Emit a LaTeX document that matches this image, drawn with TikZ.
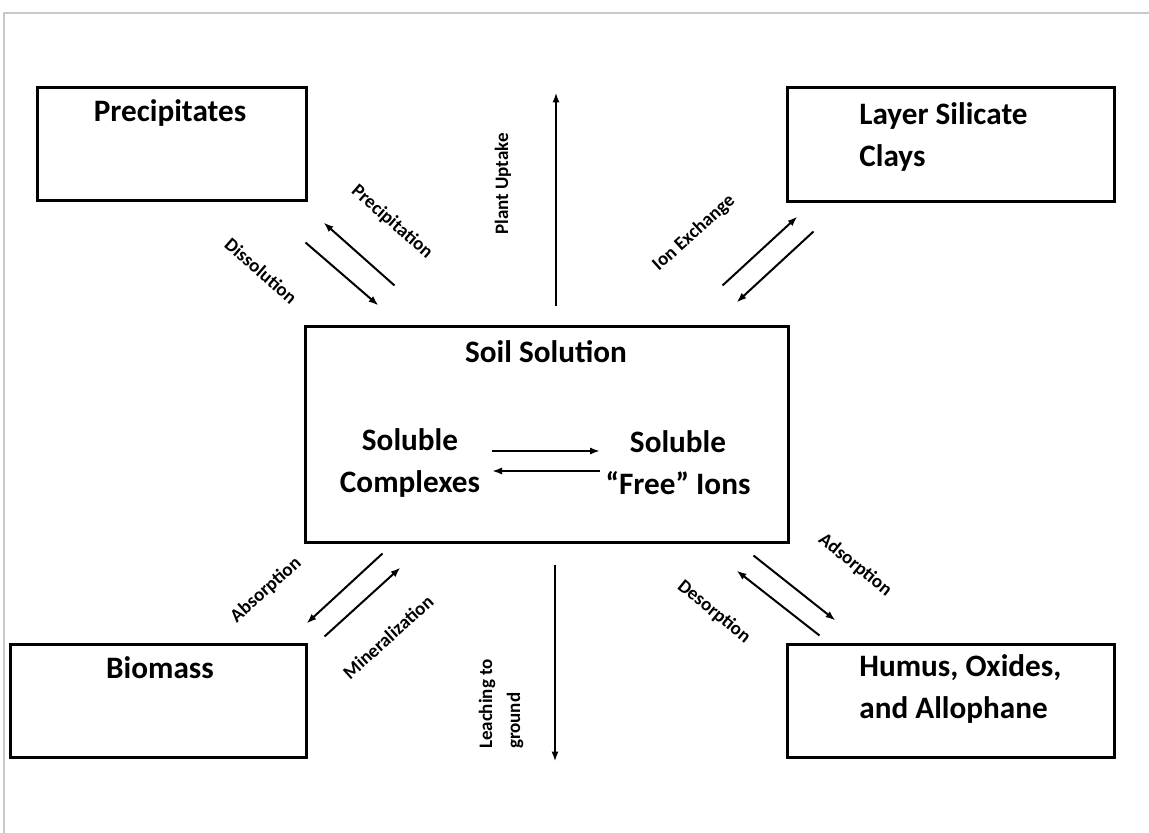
\documentclass[tikz,border=0pt]{standalone}
\usepackage{fontspec}
\setmainfont{Carlito}
\usepackage{tikz}
\usetikzlibrary{arrows.meta, positioning, calc}
\definecolor{framegray}{RGB}{200,200,200}

\begin{document}
\begin{tikzpicture}[
    x=0.5pt, y=-0.5pt,
    box/.style={rectangle, draw, line width=1.5pt, inner sep=0pt},
    title/.style={font=\fontsize{15.6}{21}\selectfont\bfseries, inner sep=0pt},
    lbl/.style={font=\fontsize{9.5}{14}\selectfont\bfseries, inner sep=0pt},
    arrow/.style={-{Latex[length=5pt, width=3.6pt]}, line width=1pt}
]
\useasboundingbox (0,0) rectangle (1149,833);
\draw[framegray, line width=1.2pt] (4,833) -- (4,13) -- (1149,13);

% boxes
\node[box, minimum width=134.5pt, minimum height=56.5pt] (prec) at (171.5,144.5) {};
\node[box, minimum width=163.5pt, minimum height=57pt] (clays) at (950.5,145) {};
\node[box, minimum width=241.5pt, minimum height=107.5pt] (soil) at (546.5,434.5) {};
\node[box, minimum width=148pt, minimum height=56.5pt] (bio) at (158,700.5) {};
\node[box, minimum width=163.5pt, minimum height=56.5pt] (humus) at (950.5,700.5) {};

\node[title] (tprec) at (170,113) {Precipitates};
\node[title, align=left, anchor=west] (tclays) at (859,137) {Layer Silicate\\Clays};
\node[title] (tsoil) at (546,352) {Soil Solution};
\node[title, align=center] (tcplx) at (410,463) {Soluble\\Complexes};
\node[title, align=center] (tfree) at (678,463) {Soluble\\“Free” Ions};
\node[title] (tbio) at (160,668) {Biomass};
\node[title, align=left, anchor=west] (thumus) at (859,689) {Humus, Oxides,\\and Allophane};

% arrow labels
\node[lbl, rotate=-41] (lprec) at (392,222) {Precipitation};
\node[lbl, rotate=-41] (ldiss) at (261,271) {Dissolution};
\node[lbl, rotate=90] (lplant) at (503,184) {Plant Uptake};
\node[lbl, rotate=42] (lion) at (694,233) {Ion Exchange};
\node[lbl, rotate=42] (labs) at (266,590) {Absorption};
\node[lbl, rotate=42] (lmin) at (388,637) {Mineralization};
\node[lbl, rotate=-39] (lads) at (855,565) {Adsorption};
\node[lbl, rotate=-39] (ldes) at (714,612) {Desorption};
\node[lbl, rotate=90, align=left] (lleach) at (501,704) {Leaching to\\ground};

% arrows
\draw[arrow] ($(prec.south east)+(87,83)$) -- ($(prec.south east)+(16,20)$);
\draw[arrow] ($(soil.north west)+(2,-83)$) -- ($(soil.north west)+(75,-20)$);
\draw[arrow] ($(clays.south west)+(-63,82)$) -- ($(clays.south west)+(12,13)$);
\draw[arrow] ($(clays.south west)+(28,28)$) -- ($(clays.south west)+(-49,99)$);
\draw[arrow] ($(bio.north east)+(75,-89)$) -- ($(bio.north east)+(-1,-19)$);
\draw[arrow] ($(bio.north east)+(17,-6)$) -- ($(bio.north east)+(93,-75)$);
\draw[arrow] ($(humus.north west)+(-32,-87)$) -- ($(humus.north west)+(50,-22)$);
\draw[arrow] ($(humus.north west)+(34,-7)$) -- ($(humus.north west)+(-49,-72)$);
\draw[arrow] ($(soil.north)+(9.5,-19)$) -- ($(soil.north)+(9.5,-233)$);
\draw[arrow] ($(soil.south)+(8.5,21)$) -- ($(soil.south)+(8.5,218)$);
\draw[arrow] ($(soil.center)+(-54.5,16.5)$) -- ($(soil.center)+(53.5,16.5)$);
\draw[arrow] ($(soil.center)+(53.5,36.5)$) -- ($(soil.center)+(-54.5,36.5)$);
\end{tikzpicture}
\end{document}
